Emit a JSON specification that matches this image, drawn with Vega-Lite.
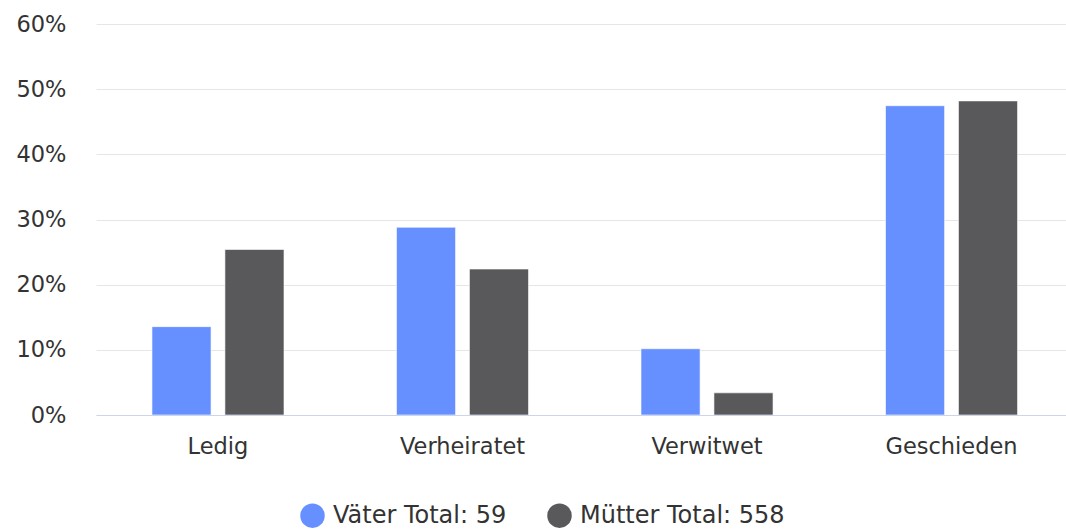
{
  "$schema": "https://vega.github.io/schema/vega-lite/v6.json",
  "width": 970,
  "height": 391,
  "autosize": {"type": "none"},
  "padding": {"left": 96, "top": 24, "right": 0, "bottom": 114},
  "background": "#ffffff",
  "config": {"font": "DejaVu Sans", "view": {"stroke": null}},
  "data": {
    "values": [
      {"Zivilstand": "Ledig", "Gruppe": "Väter Total: 59", "Anteil": 0.1356},
      {"Zivilstand": "Ledig", "Gruppe": "Mütter Total: 558", "Anteil": 0.254},
      {"Zivilstand": "Verheiratet", "Gruppe": "Väter Total: 59", "Anteil": 0.2881},
      {"Zivilstand": "Verheiratet", "Gruppe": "Mütter Total: 558", "Anteil": 0.224},
      {"Zivilstand": "Verwitwet", "Gruppe": "Väter Total: 59", "Anteil": 0.1017},
      {"Zivilstand": "Verwitwet", "Gruppe": "Mütter Total: 558", "Anteil": 0.034},
      {"Zivilstand": "Geschieden", "Gruppe": "Väter Total: 59", "Anteil": 0.4746},
      {"Zivilstand": "Geschieden", "Gruppe": "Mütter Total: 558", "Anteil": 0.482}
    ]
  },
  "mark": {"type": "bar", "stroke": "#ffffff", "strokeWidth": 1, "strokeOpacity": 0.6},
  "encoding": {
    "x": {
      "field": "Zivilstand",
      "type": "nominal",
      "sort": ["Ledig", "Verheiratet", "Verwitwet", "Geschieden"],
      "scale": {"paddingInner": 0.46, "paddingOuter": 0.2135, "align": 0.536},
      "axis": {
        "title": null,
        "labelAngle": 0,
        "labelFontSize": 22.5,
        "labelColor": "#333333",
        "labelPadding": 20,
        "ticks": false,
        "domain": true,
        "domainColor": "#ccd6eb",
        "domainWidth": 1,
        "zindex": 1
      }
    },
    "xOffset": {
      "field": "Gruppe",
      "type": "nominal",
      "sort": ["Väter Total: 59", "Mütter Total: 558"],
      "scale": {"paddingInner": 0.19}
    },
    "y": {
      "field": "Anteil",
      "type": "quantitative",
      "scale": {"domain": [0, 0.6], "nice": false},
      "axis": {
        "title": null,
        "format": ".0%",
        "values": [0, 0.1, 0.2, 0.3, 0.4, 0.5, 0.6],
        "labelFontSize": 22.5,
        "labelColor": "#333333",
        "labelPadding": 30,
        "ticks": false,
        "domain": false,
        "grid": true,
        "gridColor": "#e6e6e6",
        "gridWidth": 1
      }
    },
    "color": {
      "field": "Gruppe",
      "type": "nominal",
      "sort": ["Väter Total: 59", "Mütter Total: 558"],
      "scale": {"domain": ["Väter Total: 59", "Mütter Total: 558"], "range": ["#6690ff", "#59595b"]},
      "legend": {
        "title": null,
        "orient": "none",
        "direction": "horizontal",
        "legendX": 204,
        "legendY": 479,
        "padding": 0,
        "symbolType": "circle",
        "symbolSize": 600,
        "symbolStrokeWidth": 0,
        "symbolOpacity": 1,
        "labelFontSize": 24,
        "labelColor": "#333333",
        "labelOffset": 8,
        "labelLimit": 400,
        "columnPadding": 40
      }
    }
  }
}
